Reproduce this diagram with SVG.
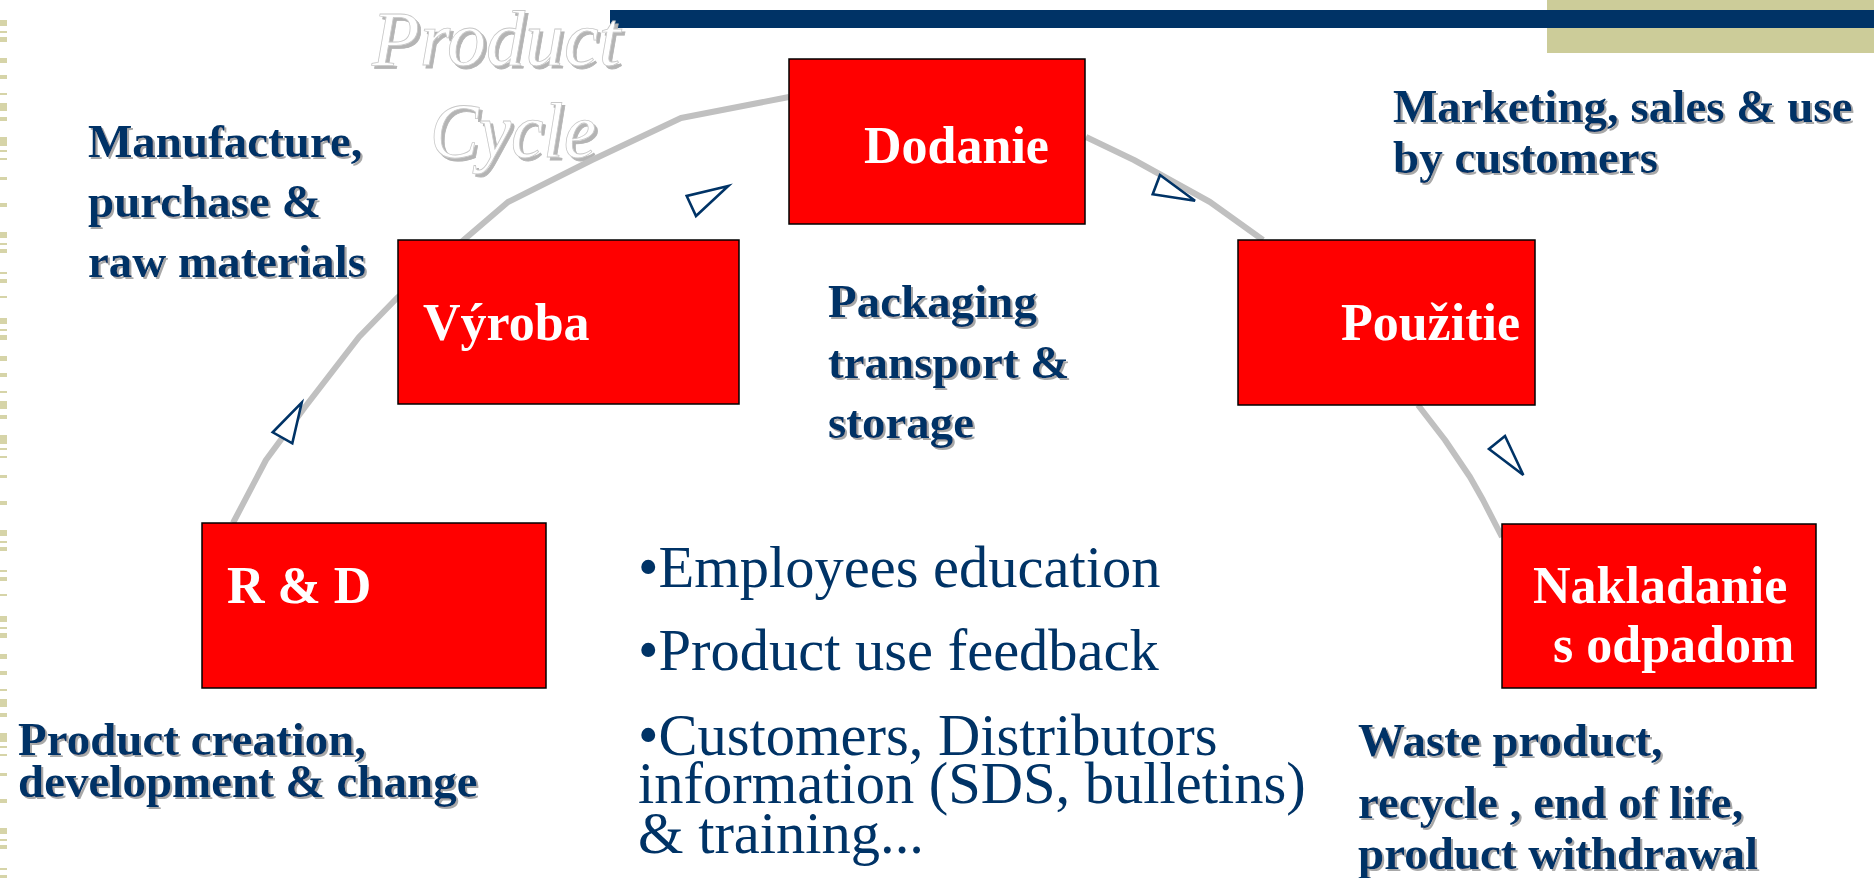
<svg xmlns="http://www.w3.org/2000/svg" width="1874" height="878" viewBox="0 0 1874 878">
<style>
.arc{fill:none;stroke:#C0C0C0;stroke-width:6;stroke-linejoin:round;stroke-linecap:butt}
.tri{fill:#FFFFFF;stroke:#003366;stroke-width:2.6;stroke-linejoin:miter}
.box{fill:#FF0000;stroke:#000000;stroke-width:1.5}
.bl{font-family:"Liberation Serif","Times New Roman",serif;font-weight:bold;font-size:52px;fill:#FFFFFF}
.lab{font-family:"Liberation Serif","Times New Roman",serif;font-weight:bold;font-size:47px;fill:#003366;filter:url(#sh)}
.bul{font-family:"Liberation Serif","Times New Roman",serif;font-size:58.5px;fill:#003366}
.title{font-family:"Liberation Serif","Times New Roman",serif;font-style:italic;font-size:78px;fill:#FFFFFF;stroke:#C8C8C8;stroke-width:0.8;filter:url(#tsh)}
</style>
<defs>
<filter id="sh" x="-5%" y="-20%" width="110%" height="140%">
<feDropShadow dx="2" dy="2" stdDeviation="0.3" flood-color="#A8A8A8" flood-opacity="1"/>
</filter>
<filter id="tsh" x="-5%" y="-20%" width="115%" height="150%">
<feDropShadow dx="3" dy="3" stdDeviation="0.4" flood-color="#B4B4B4" flood-opacity="1"/>
</filter>
</defs>
<rect width="1874" height="878" fill="#FFFFFF"/>
<g id="decor">
<rect x="1547" y="0" width="327" height="53" fill="#CCCC99"/>
<rect x="610" y="10" width="1264" height="18" fill="#003366"/>
<line x1="3.5" y1="20" x2="3.5" y2="878" stroke="#D6D4A8" stroke-width="7" stroke-dasharray="6 5 2 4 5 16 5 12 4 14 2 8 8 6 4 16 9 4 2 6 2 17 3 23 4 25 6 5 2 4 4 19 2 5 4 13 2 20"/>
</g>
<g id="title">
<text class="title" x="372" y="65">Product</text>
<text class="title" x="430" y="157" textLength="166" lengthAdjust="spacingAndGlyphs">Cycle</text>
</g>
<g id="connectors">
<polyline class="arc" points="233,523 266,460 305,407 359,337 397,298 466,238 508,202 592,160 681,118 789,97"/>
<polyline class="arc" points="1086,137 1134,160 1210,202 1263,240"/>
<polyline class="arc" points="1418,405 1445,440 1470,477 1483,500 1502,537"/>
<polygon class="tri" points="301.7,402.7 272.7,432.3 292.3,443.3"/>
<polygon class="tri" points="728.3,186 686.7,196 696,216"/>
<polygon class="tri" points="1160,175 1152.7,194.3 1195,200.7"/>
<polygon class="tri" points="1505,436 1489,449 1523.3,475"/>
</g>
<g id="node-rd">
<rect class="box" x="202" y="523" width="344" height="165"/>
<text class="bl" x="227" y="603">R &amp; D</text>
</g>
<g id="node-vyroba">
<rect class="box" x="398" y="240" width="341" height="164"/>
<text class="bl" x="423" y="340">Výroba</text>
</g>
<g id="node-dodanie">
<rect class="box" x="789" y="59" width="296" height="165"/>
<text class="bl" x="864" y="163">Dodanie</text>
</g>
<g id="node-pouzitie">
<rect class="box" x="1238" y="240" width="297" height="165"/>
<text class="bl" x="1520" y="340" text-anchor="end">Použitie</text>
</g>
<g id="node-nakladanie">
<rect class="box" x="1502" y="524" width="314" height="164"/>
<text class="bl" x="1533" y="603">Nakladanie</text>
<text class="bl" x="1553" y="662">s odpadom</text>
</g>
<g id="labels">
<text class="lab" x="88" y="157">Manufacture,</text>
<text class="lab" x="88" y="217">purchase &amp;</text>
<text class="lab" x="88" y="277">raw materials</text>
<text class="lab" x="828" y="317">Packaging</text>
<text class="lab" x="828" y="378">transport &amp;</text>
<text class="lab" x="828" y="438">storage</text>
<text class="lab" x="1393" y="122">Marketing, sales &amp; use</text>
<text class="lab" x="1393" y="173">by customers</text>
<text class="lab" x="18" y="755">Product creation,</text>
<text class="lab" x="18" y="797">development &amp; change</text>
<text class="lab" x="1358" y="756">Waste product,</text>
<text class="lab" x="1358" y="818">recycle , end of life,</text>
<text class="lab" x="1358" y="869">product withdrawal</text>
</g>
<g id="bullets">
<text class="bul" x="638" y="587">•Employees education</text>
<text class="bul" x="638" y="670">•Product use feedback</text>
<text class="bul" x="638" y="755">•Customers, Distributors</text>
<text class="bul" x="638" y="803">information (SDS, bulletins)</text>
<text class="bul" x="638" y="853">&amp; training...</text>
</g>
</svg>
